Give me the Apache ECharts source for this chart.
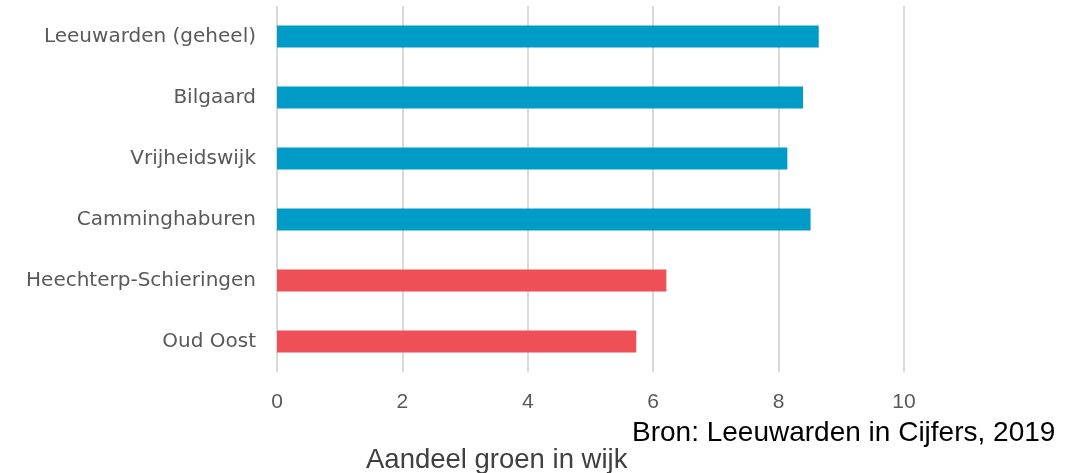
<!DOCTYPE html>
<html>
<head>
<meta charset="utf-8">
<script src="https://cdn.jsdelivr.net/npm/echarts@6/dist/echarts.min.js"></script>
<style>
  html, body { margin: 0; padding: 0; background: #fff; }
  #chart { width: 1079px; height: 473px; }
</style>
</head>
<body>
<div id="chart"></div>
<script>
// wijken, van boven naar beneden
const wijken = ['Leeuwarden (geheel)', 'Bilgaard', 'Vrijheidswijk', 'Camminghaburen', 'Heechterp-Schieringen', 'Oud Oost'];
const groenWaarden = [8.64, 8.39, 8.14, 8.51, 6.21, 5.73];
const isAandachtswijk = [false, false, false, false, true, true];
const xTicks = [0, 2, 4, 6, 8, 10];

const BLAUW = '#009CC7';
const ROOD = '#EF4F57';

const chart = echarts.init(document.getElementById('chart'));

const option = {
    animation: false,
    grid: {left: 277, right: 175, top: 6, bottom: 101, containLabel: false},
    title: [
        {
            text: 'Bron: Leeuwarden in Cijfers, 2019',
            left: 632, top: 419, padding: 0,
            textStyle: {fontFamily: 'Liberation Sans, Arial', fontSize: 28, fontWeight: 'normal', color: '#000'}
        },
        {
            text: 'Aandeel groen in wijk',
            left: 366, top: 446, padding: 0,
            textStyle: {fontFamily: 'Liberation Sans, Arial', fontSize: 27.5, fontWeight: 'normal', color: '#404040'}
        }
    ],
    xAxis: {
        type: 'value',
        min: 0, max: 10, interval: 2,
        axisLine: {show: false},
        axisTick: {show: false},
        splitLine: {lineStyle: {color: '#D9D9D9', width: 2}},
        axisLabel: {
            color: '#595959', fontSize: 21, margin: 20,
            fontFamily: 'Liberation Sans, Arial',
            formatter: v => xTicks.includes(v) ? String(v) : ''
        }
    },
    yAxis: {
        type: 'category',
        inverse: true,
        data: wijken,
        axisLine: {show: false},
        axisTick: {show: false},
        axisLabel: {color: '#595959', fontSize: 20, margin: 21, fontFamily: 'DejaVu Sans, Verdana'}
    },
    series: [{
        type: 'bar',
        barWidth: 22,
        data: groenWaarden.map((v, i) => ({
            value: v,
            itemStyle: {color: isAandachtswijk[i] ? ROOD : BLAUW}
        }))
    }]
};

chart.setOption(option);
</script>
</body>
</html>
